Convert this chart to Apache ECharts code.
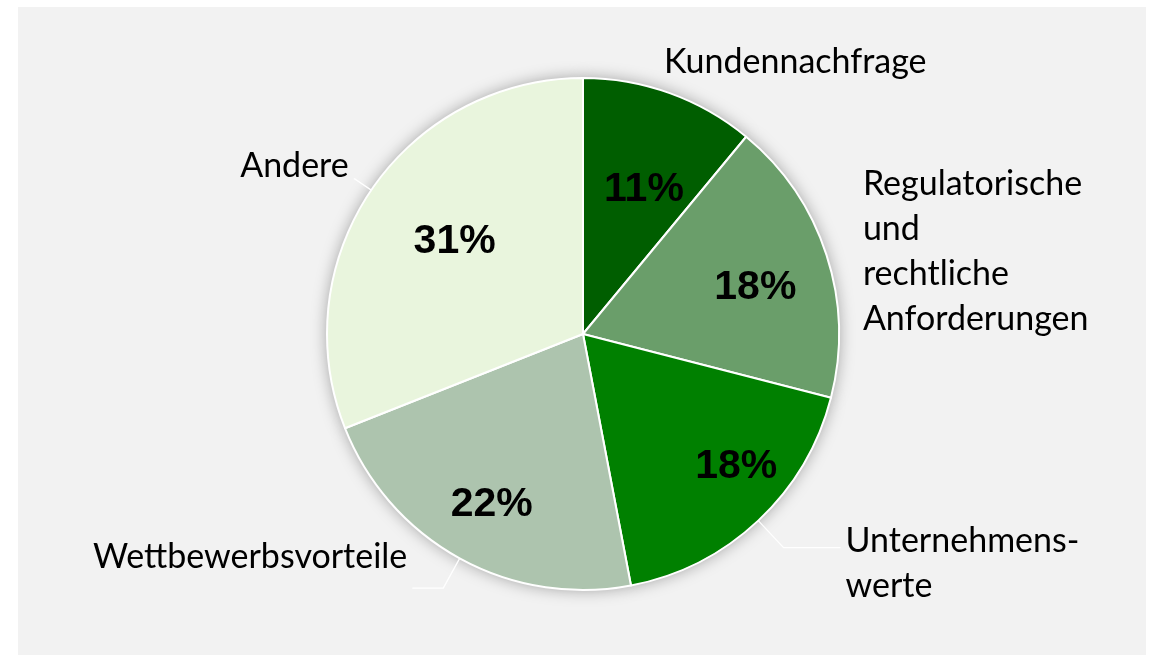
<!DOCTYPE html>
<html><head><meta charset="utf-8">
<script src="https://cdn.jsdelivr.net/npm/echarts@6/dist/echarts.min.js"></script>
<style>html,body{margin:0;padding:0;background:#fff;}#c{position:absolute;left:18px;top:7px;width:1128px;height:648px;}</style>
</head><body><div id="c"></div>
<script>
// ---- data ----
const categories = ['Kundennachfrage', 'Regulatorische\nund\nrechtliche\nAnforderungen', 'Unternehmens-\nwerte', 'Wettbewerbsvorteile', 'Andere'];
const shares = [11, 18, 18, 22, 31];

// ---- styles ----
const colors = ['#005e00', '#6a9e6a', '#008000', '#adc4ae', '#e9f5dd'];
const outerLabelStyle = [
  { dy: 0, length: 33, length2: -22, line: false },
  { dy: 0, length: 12, length2: 20, line: false },
  { dy: 16, length: 37, length2: 57, line: true },
  { dy: -31, length: 34, length2: 31, line: true },
  { dy: -13, length: 20, length2: 1, line: true }
];
const innerShift = [[1, 22], [4, 8], [32, 4], [-6, 16], [18, 7]];

const C = [565, 327], R = 256;
const chart = echarts.init(document.getElementById('c'));
chart.setOption({
  backgroundColor: '#f2f2f2',
  animation: false,
  series: [
    {
      type: 'pie', center: C, radius: R, startAngle: 90, silent: true, z: 1,
      label: { show: false }, labelLine: { show: false },
      itemStyle: { color: '#f2f2f2', shadowBlur: 16, shadowColor: 'rgba(0,0,0,0.35)' },
      data: shares.map((v, i) => ({ value: v, name: categories[i] }))
    },
    {
      type: 'pie', center: C, radius: R, startAngle: 90, clockwise: true, z: 2,
      avoidLabelOverlap: false,
      itemStyle: { borderColor: '#ffffff', borderWidth: 2 },
      label: {
        show: true, position: 'outside', color: '#000', fontFamily: 'Lato',
        fontSize: 34, lineHeight: 45, overflow: 'none', distanceToLabelLine: 5
      },
      labelLayout: function (p) { return { dy: outerLabelStyle[p.dataIndex].dy }; },
      emphasis: { disabled: true },
      data: shares.map((v, i) => ({
        value: v, name: categories[i],
        itemStyle: { color: colors[i] },
        labelLine: {
          show: true, length: outerLabelStyle[i].length, length2: outerLabelStyle[i].length2,
          lineStyle: { color: '#ffffff', width: 1.3, opacity: outerLabelStyle[i].line ? 1 : 0 }
        }
      }))
    },
    {
      type: 'pie', center: C, radius: [92, R], startAngle: 90, clockwise: true, z: 3, silent: true,
      itemStyle: { color: 'rgba(0,0,0,0)' },
      label: {
        show: true, position: 'inside', formatter: '{c}%', color: '#000',
        fontFamily: 'Liberation Sans', fontWeight: 'bold', fontSize: 41
      },
      labelLine: { show: false },
      labelLayout: function (p) { return { dx: innerShift[p.dataIndex][0], dy: innerShift[p.dataIndex][1] }; },
      data: shares.map((v, i) => ({ value: v, name: categories[i] }))
    }
  ]
});
</script></body></html>
